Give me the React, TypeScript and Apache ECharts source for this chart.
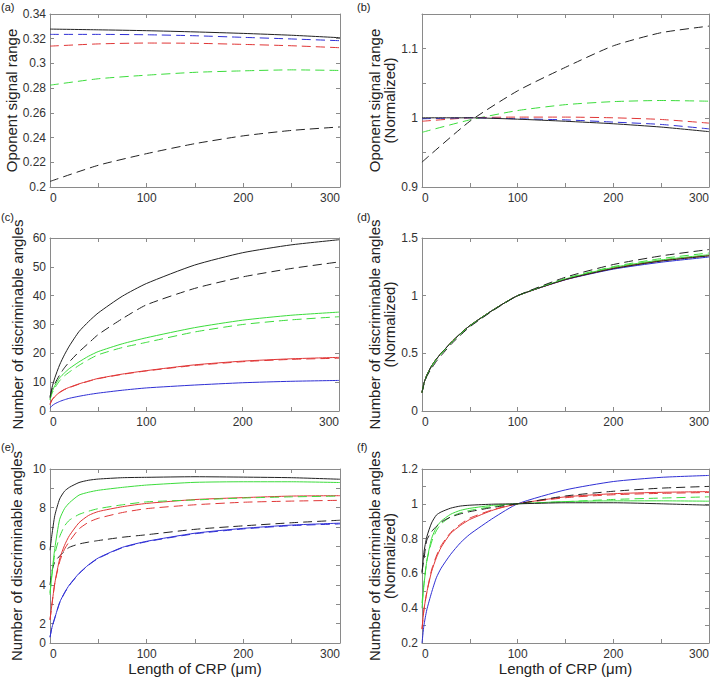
import React, { useEffect, useRef } from "react";
import * as echarts from "echarts";

// ---------- data ----------
const X_AB = [0, 50, 100, 150, 200, 250, 300];
const X_CF = [0, 2, 5, 10, 15, 20, 30, 40, 50, 75, 100, 150, 200, 250, 300];

// (a) Oponent signal range
const blackSolidA = [0.3278, 0.3272, 0.3265, 0.3255, 0.3243, 0.3228, 0.3208];
const blueDashA = [0.3235, 0.3235, 0.3232, 0.3224, 0.3211, 0.3198, 0.3184];
const redDashA = [0.314, 0.3158, 0.3165, 0.3163, 0.3154, 0.3143, 0.3127];
const greenDashA = [0.2824, 0.2876, 0.2905, 0.2928, 0.294, 0.2948, 0.2943];
const blackDashA = [0.2045, 0.2176, 0.227, 0.2351, 0.2414, 0.2458, 0.2486];

// (b) Oponent signal range (normalized)
const blackDashB = [0.936, 0.995, 1.039, 1.073, 1.104, 1.123, 1.1325];
const greenDashB = [0.979, 0.997, 1.0105, 1.019, 1.0234, 1.025, 1.024];
const redDashB = [0.995, 1.0, 1.001, 1.001, 1.0, 0.9976, 0.9923];
const blueDashB = [0.9986, 1.0, 0.9986, 0.997, 0.9938, 0.9904, 0.984];
const blackSolidB = [1.0, 1.0, 0.998, 0.995, 0.9914, 0.9866, 0.98];

// (c) Number of discriminable angles
const blackSolidC = [4.5, 8, 11.5, 16, 19.5, 22.5, 27.5, 31, 34, 39.8, 44.2, 50.6, 54.9, 57.6, 59.4];
const blackDashC = [5, 7.5, 9.5, 12.5, 15, 17, 20.5, 23.5, 26.5, 32, 36.8, 42.5, 46.5, 49.4, 51.7];
const greenSolidC = [4, 6.5, 8.8, 11.5, 13.2, 14.7, 17, 19, 20.6, 23.3, 25.4, 28.9, 31.5, 33.2, 34.3];
const greenDashC = [4, 6, 8, 10.5, 12.2, 13.5, 15.8, 17.8, 19.5, 22, 23.8, 27.4, 30.0, 31.6, 32.7];
const redSolidC = [2.3, 3.8, 5.0, 6.5, 7.5, 8.2, 9.4, 10.4, 11.3, 12.8, 14.0, 16.0, 17.3, 18.1, 18.6];
const redDashC = [2.3, 3.8, 5.0, 6.4, 7.4, 8.1, 9.3, 10.3, 11.2, 12.7, 13.9, 15.8, 17.1, 17.9, 18.3];
const blueSolidC = [1.0, 1.8, 2.5, 3.3, 3.9, 4.4, 5.1, 5.7, 6.2, 7.2, 8.0, 9.0, 9.8, 10.3, 10.6];

// (d) Number of discriminable angles (normalized)
const blueSolidD = [0.16, 0.24, 0.31, 0.39, 0.45, 0.5, 0.59, 0.67, 0.74, 0.88, 1.0, 1.138, 1.23, 1.29, 1.335];
const redSolidD = [0.16, 0.24, 0.31, 0.39, 0.45, 0.5, 0.59, 0.67, 0.74, 0.88, 1.0, 1.14, 1.237, 1.303, 1.348];
const redDashD = [0.16, 0.24, 0.31, 0.39, 0.45, 0.5, 0.59, 0.67, 0.74, 0.88, 1.0, 1.142, 1.24, 1.306, 1.35];
const greenSolidD = [0.16, 0.24, 0.31, 0.39, 0.45, 0.5, 0.59, 0.67, 0.74, 0.88, 1.0, 1.145, 1.245, 1.31, 1.355];
const blackSolidD = [0.16, 0.24, 0.31, 0.39, 0.45, 0.5, 0.59, 0.67, 0.74, 0.88, 1.0, 1.14, 1.235, 1.3, 1.345];
const greenDashD = [0.16, 0.235, 0.305, 0.385, 0.445, 0.495, 0.585, 0.665, 0.737, 0.878, 1.0, 1.15, 1.252, 1.322, 1.37];
const blackDashD = [0.16, 0.23, 0.3, 0.37, 0.43, 0.48, 0.575, 0.655, 0.73, 0.875, 1.0, 1.16, 1.27, 1.345, 1.4];

// (e) Number of discriminable angles
const blackSolidE = [5.8, 6.6, 7.6, 8.45, 8.85, 9.05, 9.3, 9.42, 9.48, 9.55, 9.57, 9.6, 9.58, 9.55, 9.47];
const greenSolidE = [3.5, 4.6, 5.9, 7.4, 7.95, 8.25, 8.65, 8.8, 8.9, 9.05, 9.17, 9.31, 9.34, 9.34, 9.3];
const greenDashE = [3.6, 4.5, 5.6, 6.5, 7.05, 7.35, 7.65, 7.82, 7.95, 8.15, 8.3, 8.4, 8.5, 8.56, 8.6];
const redSolidE = [2.2, 3.0, 4.1, 5.35, 6.05, 6.55, 7.22, 7.6, 7.8, 8.05, 8.22, 8.42, 8.52, 8.6, 8.62];
const redDashE = [2.2, 3.0, 4.1, 5.2, 5.85, 6.25, 6.9, 7.25, 7.45, 7.75, 7.95, 8.15, 8.28, 8.34, 8.38];
const blackDashE = [4.0, 4.7, 5.2, 5.5, 5.75, 5.95, 6.12, 6.22, 6.3, 6.47, 6.6, 6.88, 7.06, 7.22, 7.35];
const blueSolidE = [1.3, 1.8, 2.3, 3.1, 3.6, 4.0, 4.6, 5.05, 5.4, 5.95, 6.26, 6.68, 6.93, 7.1, 7.2];
const blueDashE = [1.3, 1.8, 2.3, 3.08, 3.58, 3.98, 4.58, 5.03, 5.38, 5.93, 6.24, 6.65, 6.9, 7.07, 7.16];

// (f) Number of discriminable angles (normalized)
const blueSolidF = [0.2, 0.3, 0.39, 0.49, 0.575, 0.63, 0.71, 0.775, 0.825, 0.92, 1.0, 1.08, 1.128, 1.152, 1.163];
const redSolidF = [0.28, 0.39, 0.49, 0.61, 0.69, 0.75, 0.83, 0.875, 0.91, 0.965, 1.0, 1.04, 1.058, 1.066, 1.07];
const redDashF = [0.28, 0.39, 0.49, 0.62, 0.7, 0.76, 0.835, 0.882, 0.918, 0.968, 1.0, 1.035, 1.052, 1.06, 1.065];
const greenSolidF = [0.4, 0.53, 0.67, 0.8, 0.865, 0.9, 0.94, 0.962, 0.974, 0.992, 1.0, 1.013, 1.017, 1.017, 1.015];
const greenDashF = [0.43, 0.54, 0.67, 0.78, 0.845, 0.885, 0.925, 0.948, 0.962, 0.985, 1.0, 1.012, 1.025, 1.033, 1.04];
const blackDashF = [0.61, 0.68, 0.79, 0.84, 0.87, 0.895, 0.924, 0.942, 0.955, 0.98, 1.0, 1.045, 1.072, 1.09, 1.1];
const blackSolidF = [0.6, 0.72, 0.81, 0.89, 0.935, 0.953, 0.975, 0.987, 0.992, 0.998, 1.0, 1.006, 1.006, 1.0, 0.992];

const X_NAME = "Length of CRP (μm)";
const Y_NAME_RANGE = "Oponent signal range";
const Y_NAME_ANGLES = "Number of discriminable angles";
const NORM = "(Normalized)";
const PANEL_LABELS = ["(a)", "(b)", "(c)", "(d)", "(e)", "(f)"];

// ---------- style ----------
const FONT = '"Liberation Sans", Arial, Helvetica, sans-serif';
const AXIS_COLOR = "#8a8a8a";
const LABEL_COLOR = "#333333";
const BLACK = "#222222";
const BLUE = "#2f2fd4";
const RED = "#e03636";
const GREEN = "#3cdc3c";
const DASH = [9, 5];

type S = { y: number[]; c: string; d: boolean };

const fmt2 = (v: number) => String(+v.toFixed(2));

const panels = [
  {
    grid: { left: 50, top: 14, width: 290, height: 173 },
    x: X_AB, yMin: 0.2, yMax: 0.34, yInt: 0.02,
    yFmt: (v: number) => fmt2(v),
    yName: Y_NAME_RANGE, nameGap: 26, xName: "",
    series: [
      { y: blackDashA, c: BLACK, d: true },
      { y: greenDashA, c: GREEN, d: true },
      { y: redDashA, c: RED, d: true },
      { y: blueDashA, c: BLUE, d: true },
      { y: blackSolidA, c: BLACK, d: false },
    ] as S[],
  },
  {
    grid: { left: 422, top: 14, width: 287, height: 173 },
    x: X_AB, yMin: 0.9, yMax: 1.15, yInt: 0.05,
    yFmt: (v: number) => (Math.round(v * 100) % 10 === 0 ? fmt2(v) : ""),
    yName: Y_NAME_RANGE + "\n" + NORM, nameGap: 19, xName: "",
    series: [
      { y: blackDashB, c: BLACK, d: true },
      { y: greenDashB, c: GREEN, d: true },
      { y: redDashB, c: RED, d: true },
      { y: blueDashB, c: BLUE, d: true },
      { y: blackSolidB, c: BLACK, d: false },
    ] as S[],
  },
  {
    grid: { left: 50, top: 238, width: 289, height: 173 },
    x: X_CF, yMin: 0, yMax: 60, yInt: 10,
    yFmt: (v: number) => String(v),
    yName: Y_NAME_ANGLES, nameGap: 25, xName: "",
    series: [
      { y: blueSolidC, c: BLUE, d: false },
      { y: redDashC, c: RED, d: true },
      { y: redSolidC, c: RED, d: false },
      { y: greenDashC, c: GREEN, d: true },
      { y: greenSolidC, c: GREEN, d: false },
      { y: blackDashC, c: BLACK, d: true },
      { y: blackSolidC, c: BLACK, d: false },
    ] as S[],
  },
  {
    grid: { left: 422, top: 238, width: 287, height: 173 },
    x: X_CF, yMin: 0, yMax: 1.5, yInt: 0.5,
    yFmt: (v: number) => fmt2(v),
    yName: Y_NAME_ANGLES + "\n" + NORM, nameGap: 19, xName: "",
    series: [
      { y: blueSolidD, c: BLUE, d: false },
      { y: redSolidD, c: RED, d: false },
      { y: redDashD, c: RED, d: true },
      { y: greenSolidD, c: GREEN, d: false },
      { y: blackSolidD, c: BLACK, d: false },
      { y: greenDashD, c: GREEN, d: true },
      { y: blackDashD, c: BLACK, d: true },
    ] as S[],
  },
  {
    grid: { left: 50, top: 469, width: 290, height: 174 },
    x: X_CF, yMin: 1, yMax: 10, yInt: 1,
    yFmt: (v: number) => (v === 1 ? "0" : Math.round(v) % 2 === 0 ? String(Math.round(v)) : ""),
    yName: Y_NAME_ANGLES, nameGap: 26, xName: X_NAME,
    series: [
      { y: blueDashE, c: BLUE, d: true },
      { y: blueSolidE, c: BLUE, d: false },
      { y: blackDashE, c: BLACK, d: true },
      { y: redDashE, c: RED, d: true },
      { y: redSolidE, c: RED, d: false },
      { y: greenDashE, c: GREEN, d: true },
      { y: greenSolidE, c: GREEN, d: false },
      { y: blackSolidE, c: BLACK, d: false },
    ] as S[],
  },
  {
    grid: { left: 422, top: 469, width: 287, height: 174 },
    x: X_CF, yMin: 0.2, yMax: 1.2, yInt: 0.1,
    yFmt: (v: number) => (Math.round(v * 10) % 2 === 0 ? fmt2(v) : ""),
    yName: Y_NAME_ANGLES + "\n" + NORM, nameGap: 19, xName: X_NAME,
    series: [
      { y: blueSolidF, c: BLUE, d: false },
      { y: redDashF, c: RED, d: true },
      { y: redSolidF, c: RED, d: false },
      { y: greenDashF, c: GREEN, d: true },
      { y: greenSolidF, c: GREEN, d: false },
      { y: blackDashF, c: BLACK, d: true },
      { y: blackSolidF, c: BLACK, d: false },
    ] as S[],
  },
];

const LABEL_POS = [
  [1, 1], [357, 1], [1, 211], [357, 211], [1, 441], [357, 441],
];

function buildOption() {
  const grid: any[] = [];
  const xAxis: any[] = [];
  const yAxis: any[] = [];
  const series: any[] = [];
  const axisLine = { show: true, onZero: false, lineStyle: { color: AXIS_COLOR, width: 1 } };
  const axisTick = { show: true, inside: true, length: 4, lineStyle: { color: AXIS_COLOR, width: 1 } };

  panels.forEach((p, i) => {
    grid.push({ ...p.grid, containLabel: false });
    xAxis.push({
      type: "value", gridIndex: i, position: "bottom", min: 0, max: 300, interval: 50,
      axisLine, axisTick, splitLine: { show: false },
      axisLabel: {
        color: LABEL_COLOR, fontSize: 12, fontFamily: FONT, margin: 5,
        formatter: (v: number) => (v % 100 === 0 ? String(v) : ""),
        alignMinLabel: "left", alignMaxLabel: "right",
      },
      name: p.xName, nameLocation: "middle", nameGap: 14,
      nameTextStyle: { color: "#222", fontSize: 15, fontFamily: FONT },
    });
    xAxis.push({
      type: "value", gridIndex: i, position: "top", min: 0, max: 300, interval: 50,
      axisLine, axisTick, splitLine: { show: false }, axisLabel: { show: false },
    });
    yAxis.push({
      type: "value", gridIndex: i, position: "left", min: p.yMin, max: p.yMax, interval: p.yInt,
      axisLine, axisTick, splitLine: { show: false },
      axisLabel: { color: LABEL_COLOR, fontSize: 12, fontFamily: FONT, margin: 4, formatter: p.yFmt },
      name: p.yName, nameLocation: "middle", nameGap: p.nameGap, nameRotate: 90,
      nameTextStyle: { color: "#222", fontSize: 15, fontFamily: FONT, lineHeight: 15 },
    });
    yAxis.push({
      type: "value", gridIndex: i, position: "right", min: p.yMin, max: p.yMax, interval: p.yInt,
      axisLine, axisTick, splitLine: { show: false }, axisLabel: { show: false },
    });
    p.series.forEach((s) => {
      series.push({
        type: "line",
        xAxisIndex: 2 * i,
        yAxisIndex: 2 * i,
        data: p.x.map((xv, k) => [xv, s.y[k]]),
        showSymbol: false,
        symbol: "none",
        smooth: 0.2,
        silent: true,
        clip: true,
        lineStyle: { color: s.c, width: 1, type: s.d ? DASH : "solid" },
      });
    });
  });

  const graphic = PANEL_LABELS.map((t, i) => ({
    type: "text",
    left: LABEL_POS[i][0],
    top: LABEL_POS[i][1],
    style: { text: t, font: `11px ${FONT}`, fill: "#222" },
  }));

  return { animation: false, backgroundColor: "#ffffff", grid, xAxis, yAxis, series, graphic };
}

export default function App() {
  const ref = useRef<HTMLDivElement>(null);
  useEffect(() => {
    document.body.style.margin = "0";
    if (!ref.current) return;
    const chart = echarts.init(ref.current, undefined, { renderer: "svg" });
    chart.setOption(buildOption() as any);
    return () => chart.dispose();
  }, []);
  return <div ref={ref} style={{ width: 712, height: 680 }} />;
}
